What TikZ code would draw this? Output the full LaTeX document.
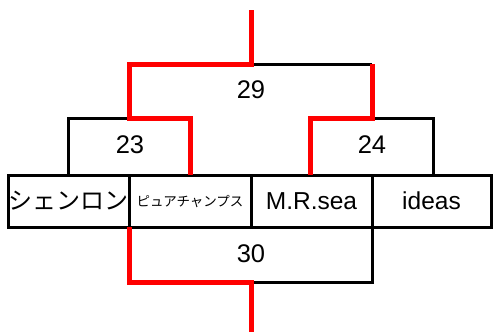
\documentclass[tikz,border=0pt]{standalone}
\usepackage{fontspec}
\setmainfont{Liberation Sans}
\newfontfamily\jpfont{Noto Sans CJK JP}
\begin{document}
\begin{tikzpicture}[x=1pt,y=-1pt,
  team/.style={draw=black,line width=3pt,minimum height=52pt,inner sep=0pt,anchor=north west,outer sep=0pt},
  blk/.style={draw=black,line width=3pt,line join=miter},
  win/.style={draw=red,line width=5pt,line join=miter},
  score/.style={font=\fontsize{25.5}{25}\selectfont,inner sep=0pt}]
\useasboundingbox (0,0) rectangle (493,333);
% team boxes
\node[team,minimum width=121pt] (t1) at (8,175) {};
\node[team,minimum width=122pt] (t2) at (129,175) {};
\node[team,minimum width=121pt] (t3) at (251,175) {};
\node[team,minimum width=119pt] (t4) at (372,175) {};
\node[inner sep=0pt,font=\jpfont\fontsize{24}{24}\selectfont] (n1) at (t1.center) {シェンロン};
\node[inner sep=0pt,font=\jpfont\fontsize{13.5}{14}\selectfont] (n2) at (t2.center) {ピュアチャンプス};
\node[inner sep=0pt,font=\fontsize{24.5}{24}\selectfont] (n3) at (t3.center) {M.R.sea};
\node[inner sep=0pt,font=\fontsize{24.5}{24}\selectfont] (n4) at (t4.center) {ideas};
% bracket corners
\coordinate (a1) at (68,175); \coordinate (a2) at (68,118);
\coordinate (a3) at (129,118); \coordinate (a4) at (190,118); \coordinate (a5) at (190,175);
\coordinate (b1) at (310,175); \coordinate (b2) at (310,118);
\coordinate (b3) at (372,118); \coordinate (b4) at (433,118); \coordinate (b5) at (433,175);
\coordinate (c1) at (129,64); \coordinate (c2) at (251,64); \coordinate (c3) at (372,64);
\coordinate (top) at (251,10);
\coordinate (d1) at (129,227); \coordinate (d2) at (129,282); \coordinate (d3) at (251,282);
\coordinate (d4) at (372,282); \coordinate (d5) at (372,227);
\coordinate (bot) at (251,332);
% black lines
\draw[blk] (a1) -- (a2) -- (a3);
\draw[blk] (c2) -- (c3);
\draw[blk] (b3) -- (b4) -- (b5);
\draw[blk] (d3) -- (d4) -- (d5);
% red winning path
\draw[win] (top) -- (c2) -- (c1) -- (a3) -- (a4) -- (a5);
\draw[win] (c3) -- (b3) -- (b2) -- (b1);
\draw[win] (d1) -- (d2) -- (d3) -- (bot);
% scores
\node[score] (s29) at (251,90) {29};
\node[score] (s23) at (130,145) {23};
\node[score] (s24) at (372,145) {24};
\node[score] (s30) at (251,254) {30};
\end{tikzpicture}
\end{document}
